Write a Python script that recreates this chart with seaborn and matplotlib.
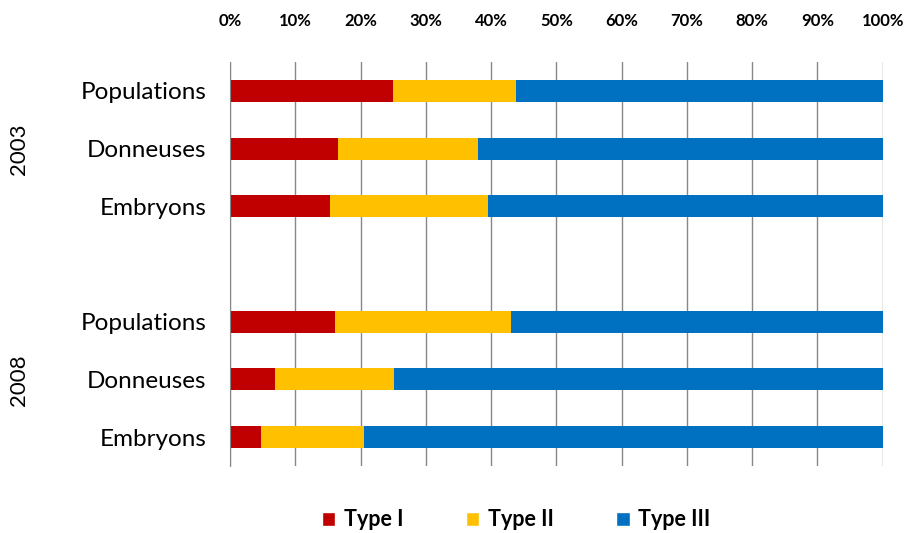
import pandas as pd
import numpy as np
import matplotlib.pyplot as plt
import seaborn as sns
from matplotlib.patches import Patch

sns.set_style("white")
plt.rcParams['font.family'] = ['Lato', 'DejaVu Sans']
plt.rcParams['text.color'] = 'black'
plt.rcParams['xtick.color'] = 'black'
plt.rcParams['ytick.color'] = 'black'

# Data (percent of each row)
years = ['2003', '2003', '2003', '2008', '2008', '2008']
categories = ['Populations', 'Donneuses', 'Embryons', 'Populations', 'Donneuses', 'Embryons']
type_1 = [25.0, 16.5, 15.3, 16.1, 6.9, 4.7]
type_2 = [18.8, 21.5, 24.2, 26.9, 18.2, 15.8]
type_3 = [56.2, 62.0, 60.5, 57.0, 74.9, 79.5]

series_names = ['Type I', 'Type II', 'Type III']
colors = ['#C00000', '#FFC000', '#0070C0']
x_ticks = list(range(0, 101, 10))

df = pd.DataFrame({'year': years, 'cat': categories,
                   'Type I': type_1, 'Type II': type_2, 'Type III': type_3})
df['key'] = df['year'] + ' ' + df['cat']
df['c1'] = df['Type I']
df['c2'] = df['Type I'] + df['Type II']
df['c3'] = df['c2'] + df['Type III']

order = list(df['key'][:3]) + ['gap'] + list(df['key'][3:])

fig = plt.figure(figsize=(9.09, 5.33), dpi=100)
ax = fig.add_axes([0.253, 0.1257, 0.718, 0.758])

# stacked bars: draw cumulative totals, biggest first
for col, color in zip(['c3', 'c2', 'c1'], colors[::-1]):
    sns.barplot(data=df, x=col, y='key', order=order, orient='h',
                color=color, width=0.38, saturation=1, linewidth=0, ax=ax)

ax.set_xlim(0, 100)
ax.set_ylim(6.5, -0.5)
ax.set_xticks(x_ticks)
ax.set_xticklabels([f'{t}%' for t in x_ticks], fontsize=12, fontweight='bold')
ax.xaxis.tick_top()
ax.tick_params(axis='x', length=0, pad=24)
ax.set_xlabel('')
ax.set_ylabel('')

ax.set_yticks(range(7))
ax.set_yticklabels(categories[:3] + [''] + categories[3:], fontsize=17.5)
ax.tick_params(axis='y', length=0, pad=17)

ax.xaxis.grid(True, color='#888888', linewidth=1)
ax.yaxis.grid(False)
ax.set_axisbelow(True)
for s in ['top', 'right', 'bottom']:
    ax.spines[s].set_visible(False)
ax.spines['left'].set_color('#888888')

# year group labels
fig.text(0.021, 1 - 149 / 533, '2003', rotation=90, ha='center', va='center', fontsize=16)
fig.text(0.021, 1 - 380 / 533, '2008', rotation=90, ha='center', va='center', fontsize=16)

handles = [Patch(facecolor=c, label=n) for c, n in zip(colors, series_names)]
leg = fig.legend(handles=handles, loc='center', bbox_to_anchor=(0.568, 0.025), ncol=3,
                 frameon=False, handlelength=0.62, handleheight=0.62, columnspacing=2.9,
                 handletextpad=0.4, prop={'size': 15.5, 'weight': 'bold'})

fig.savefig('out.png', dpi=100)
